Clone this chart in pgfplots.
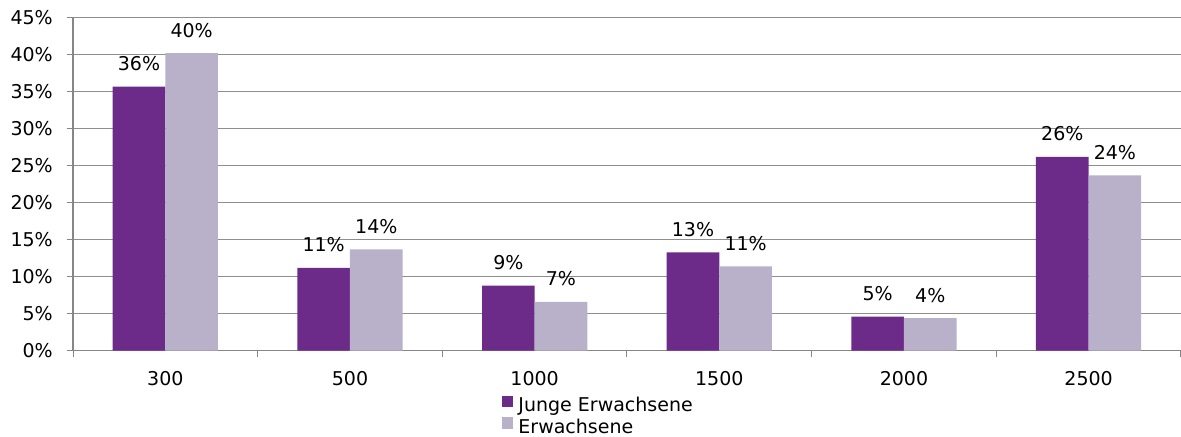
\documentclass[border=0pt]{standalone}
\usepackage{fontspec}
\setmainfont{DejaVu Sans}
\usepackage{pgfplots}
\pgfplotsset{compat=1.18}

\definecolor{junge}{HTML}{6C2B89}
\definecolor{erw}{HTML}{B9B0CA}
\definecolor{gridgray}{HTML}{8E8E8E}
\definecolor{axisgray}{HTML}{868686}

% Shares per category: 300, 500, 1000, 1500, 2000, 2500
\pgfplotstableread{
x  junge  erw
0  35.7   40.2
1  11.2   13.7
2  8.8    6.6
3  13.3   11.4
4  4.6    4.4
5  26.2   23.7
}\shares

\begin{document}
\fontsize{19bp}{23bp}\selectfont
\begin{tikzpicture}
\useasboundingbox (-73bp,-86.3bp) rectangle (1108bp,350.7bp);
\begin{axis}[
  at={(0,0)}, anchor=south west, scale only axis,
  width=1108bp, height=333bp,
  xmin=-0.5, xmax=5.5, ymin=0, ymax=45,
  axis lines=left,
  axis line style={axisgray, line width=1.5bp, -},
  /pgf/number format/assume math mode=true,
  ybar=0pt, bar width=0.285,
  ytick={0,5,...,45},
  yticklabel={\pgfmathprintnumber{\tick}\%},
  ymajorgrids,
  major grid style={gridgray, line width=1bp},
  xtick={-0.5,0.5,...,5.5},
  x tick label as interval,
  xticklabels={300,500,1000,1500,2000,2500},
  tick align=outside,
  tick style={axisgray, line width=1bp},
  major tick length=6.5bp,
  yticklabel style={anchor=east, inner sep=0pt, xshift=-13.5bp},
  xticklabel style={anchor=north, inner sep=0pt, yshift=-14bp},
  nodes near coords={\pgfmathprintnumber[fixed, precision=0]{\pgfplotspointmeta}\%},
  every node near coord/.append style={anchor=base, inner sep=0pt, yshift=16bp, text=black},
  legend cell align=left,
  legend image code/.code={\path[#1, draw=none] (0bp,-1bp) rectangle (11.6bp,10.6bp);},
  legend style={at={(0.3869,-0.135)}, anchor=north west, draw=none, fill=none,
    inner sep=0pt, row sep=2.5bp,
    nodes={inner sep=0pt, text height=14bp, text depth=3bp},
    /tikz/every odd column/.append style={column sep=5bp}},
]
\addplot[fill=junge, draw=none] table[x=x, y=junge] {\shares};
\addlegendentry{Junge Erwachsene}
\addplot[fill=erw, draw=none] table[x=x, y=erw] {\shares};
\addlegendentry{Erwachsene}
\end{axis}
\end{tikzpicture}
\end{document}
